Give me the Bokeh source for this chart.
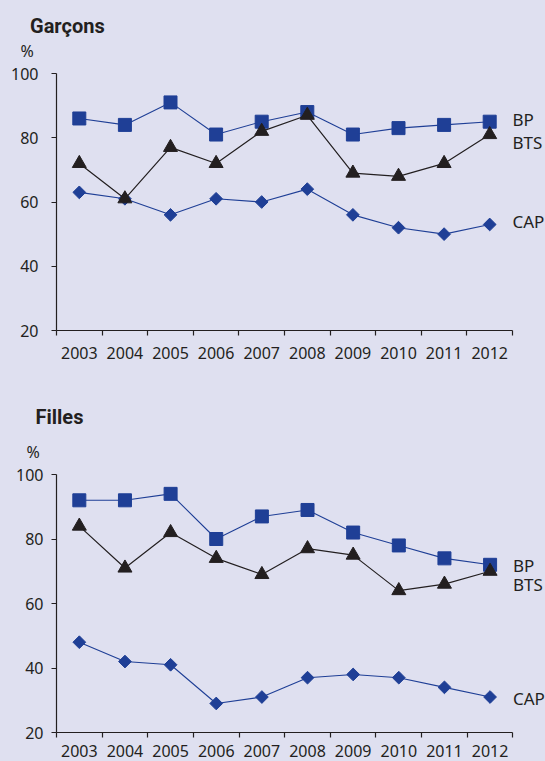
from bokeh.plotting import figure
from bokeh.models import Range1d, FixedTicker, Title, ColumnDataSource
from bokeh.layouts import column
from bokeh.embed import file_html
from bokeh.resources import INLINE
from bokeh.core.properties import value
import numpy as np

# ---- data ----
years = [2003, 2004, 2005, 2006, 2007, 2008, 2009, 2010, 2011, 2012]
y_ticks = [20, 40, 60, 80, 100]
series_names = ["BP", "BTS", "CAP"]

garcons_bp = [86, 84, 91, 81, 85, 88, 81, 83, 84, 85]
garcons_bts = [72, 61, 77, 72, 82, 87, 69, 68, 72, 81]
garcons_cap = [63, 61, 56, 61, 60, 64, 56, 52, 50, 53]

filles_bp = [92, 92, 94, 80, 87, 89, 82, 78, 74, 72]
filles_bts = [84, 71, 82, 74, 69, 77, 75, 64, 66, 70]
filles_cap = [48, 42, 41, 29, 31, 37, 38, 37, 34, 31]

# ---- style ----
BG = "#dfe0f0"
BLUE = "#1f3f96"
DARK = "#231f20"
FONT = "Noto Sans"
W = 545


def make_fig(title, bp, bts, cap, height, frame_left, axis_px, top, bottom,
             y_standoff, x_standoff, title_off, pct_off, title_standoff, pct_standoff,
             label_dy):
    frame_w = W - frame_left
    x0 = years[0] - 0.5
    x_end = x0 + len(years) * frame_w / axis_px
    p = figure(width=W, height=height, output_backend="svg", toolbar_location=None,
               x_range=Range1d(x0, x_end), y_range=Range1d(20, 100),
               min_border_left=frame_left, min_border_right=0,
               min_border_top=top, min_border_bottom=bottom,
               background_fill_color=BG, border_fill_color=BG,
               outline_line_color=None)
    p.grid.visible = False

    p.add_layout(Title(text="%", align="left", offset=pct_off, standoff=pct_standoff,
                       text_font=FONT, text_font_size="16px",
                       text_font_style="normal", text_color=DARK), "above")
    p.add_layout(Title(text=title, align="left", offset=title_off, standoff=title_standoff,
                       text_font="Roboto", text_font_size="20px",
                       text_font_style="bold", text_color=DARK), "above")

    # x axis
    xa = p.xaxis[0]
    xa.ticker = FixedTicker(ticks=years, minor_ticks=[y - 0.5 for y in years] + [years[-1] + 0.5])
    xa.bounds = (x0, years[-1] + 0.5)
    xa.major_tick_out = 0
    xa.major_tick_in = 0
    xa.minor_tick_out = 5
    xa.minor_tick_in = 0
    xa.minor_tick_line_color = DARK
    xa.minor_tick_line_width = 1.2
    xa.axis_line_color = DARK
    xa.axis_line_width = 1.2
    xa.major_label_text_font = FONT
    xa.major_label_text_font_size = "16px"
    xa.major_label_text_color = DARK
    xa.major_label_standoff = x_standoff

    # y axis
    ya = p.yaxis[0]
    ya.ticker = FixedTicker(ticks=y_ticks, minor_ticks=[])
    ya.major_tick_out = 5
    ya.major_tick_in = 0
    ya.major_tick_line_color = DARK
    ya.major_tick_line_width = 1.2
    ya.axis_line_color = DARK
    ya.axis_line_width = 1.2
    ya.major_label_text_font = FONT
    ya.major_label_text_font_size = "16px"
    ya.major_label_text_color = DARK
    ya.major_label_standoff = y_standoff

    src = ColumnDataSource(dict(x=years, bp=bp, bts=bts, cap=cap))
    p.line("x", "bp", source=src, line_color=BLUE, line_width=1.1)
    p.scatter("x", "bp", source=src, marker="square", size=13,
              fill_color=BLUE, line_color=BLUE, line_width=1)
    p.line("x", "cap", source=src, line_color=BLUE, line_width=1.1)
    p.scatter("x", "cap", source=src, marker="square", angle=np.pi / 4, size=9,
              fill_color=BLUE, line_color=BLUE, line_width=1)
    p.line("x", "bts", source=src, line_color=DARK, line_width=1.2)
    p.scatter("x", "bts", source=src, marker="triangle", size=14,
              fill_color=DARK, line_color=DARK, line_width=1)

    lab = ColumnDataSource(dict(
        x=[years[-1] + 0.5] * 3,
        y=[bp[-1], bts[-1], cap[-1]],
        t=series_names,
        dy=label_dy,
    ))
    p.text("x", "y", text="t", source=lab, x_offset=0, y_offset="dy",
           text_font=value(FONT), text_font_size="17px", text_color=DARK,
           text_baseline="middle", text_align="left")
    return p


p1 = make_fig("Garçons", garcons_bp, garcons_bts, garcons_cap,
              height=380, frame_left=56, axis_px=456, top=73, bottom=50,
              y_standoff=13, x_standoff=11,
              title_off=-26.5, pct_off=-36, title_standoff=-23, pct_standoff=23,
              label_dy=[-2, 8, -3])
p2 = make_fig("Filles", filles_bp, filles_bts, filles_cap,
              height=381, frame_left=50, axis_px=462, top=94, bottom=29,
              y_standoff=8, x_standoff=7,
              title_off=-21, pct_off=-30, title_standoff=-3, pct_standoff=23,
              label_dy=[1, 13, 1])

layout = column(p1, p2, spacing=0)
layout.styles = {"background-color": BG}

html = file_html(layout, INLINE)
html = html.replace("</head>", "<style>body{background-color:%s;}</style></head>" % BG, 1)
open("out.html", "w").write(html)
